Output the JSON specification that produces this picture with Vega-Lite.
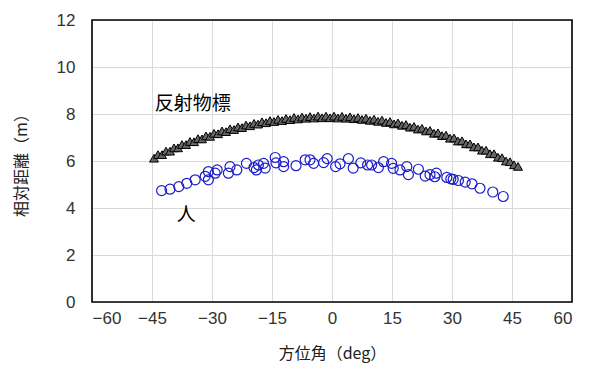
{
  "$schema": "https://vega.github.io/schema/vega-lite/v6.json",
  "width": 480,
  "height": 282,
  "autosize": {"type": "none"},
  "padding": {"left": 92, "top": 20, "right": 23, "bottom": 67},
  "background": "white",
  "config": {
    "view": {"stroke": null},
    "axis": {
      "grid": true,
      "gridColor": "#d9d9d9",
      "gridWidth": 1,
      "domain": false,
      "ticks": false,
      "labelFont": "Liberation Sans",
      "labelFontSize": 17,
      "labelColor": "#333333",
      "titleFont": "Noto Sans CJK JP",
      "titleFontSize": 16,
      "titleFontWeight": "normal",
      "titleColor": "#202020"
    }
  },
  "datasets": {
    "tri": [
      {"x": -44.5, "y": 6.12}, {"x": -43.5, "y": 6.27}, {"x": -42.5, "y": 6.27}, {"x": -41.5, "y": 6.42},
      {"x": -40.5, "y": 6.42}, {"x": -39.5, "y": 6.56}, {"x": -38.5, "y": 6.56}, {"x": -37.5, "y": 6.70},
      {"x": -36.5, "y": 6.70}, {"x": -35.5, "y": 6.83}, {"x": -34.5, "y": 6.82}, {"x": -33.5, "y": 6.95},
      {"x": -32.5, "y": 6.94}, {"x": -31.5, "y": 7.07}, {"x": -30.5, "y": 7.05}, {"x": -29.5, "y": 7.18},
      {"x": -28.5, "y": 7.16}, {"x": -27.5, "y": 7.28}, {"x": -26.5, "y": 7.25}, {"x": -25.5, "y": 7.37},
      {"x": -24.5, "y": 7.34}, {"x": -23.5, "y": 7.45}, {"x": -22.5, "y": 7.42}, {"x": -21.5, "y": 7.53},
      {"x": -20.5, "y": 7.50}, {"x": -19.5, "y": 7.60}, {"x": -18.5, "y": 7.57}, {"x": -17.5, "y": 7.67},
      {"x": -16.5, "y": 7.63}, {"x": -15.5, "y": 7.72}, {"x": -14.5, "y": 7.68}, {"x": -13.5, "y": 7.77},
      {"x": -12.5, "y": 7.72}, {"x": -11.5, "y": 7.81}, {"x": -10.5, "y": 7.76}, {"x": -9.5, "y": 7.85},
      {"x": -8.5, "y": 7.79}, {"x": -7.5, "y": 7.87}, {"x": -6.5, "y": 7.82}, {"x": -5.5, "y": 7.89},
      {"x": -4.5, "y": 7.83}, {"x": -3.5, "y": 7.91}, {"x": -2.5, "y": 7.84}, {"x": -1.5, "y": 7.91},
      {"x": -0.5, "y": 7.84}, {"x": 0.5, "y": 7.91}, {"x": 1.5, "y": 7.83}, {"x": 2.5, "y": 7.90},
      {"x": 3.5, "y": 7.82}, {"x": 4.5, "y": 7.88}, {"x": 5.5, "y": 7.80}, {"x": 6.5, "y": 7.85},
      {"x": 7.5, "y": 7.77}, {"x": 8.5, "y": 7.82}, {"x": 9.5, "y": 7.73}, {"x": 10.5, "y": 7.78},
      {"x": 11.5, "y": 7.69}, {"x": 12.5, "y": 7.74}, {"x": 13.5, "y": 7.64}, {"x": 14.5, "y": 7.68},
      {"x": 15.5, "y": 7.58}, {"x": 16.5, "y": 7.62}, {"x": 17.5, "y": 7.52}, {"x": 18.5, "y": 7.55},
      {"x": 19.5, "y": 7.44}, {"x": 20.5, "y": 7.47}, {"x": 21.5, "y": 7.36}, {"x": 22.5, "y": 7.39},
      {"x": 23.5, "y": 7.28}, {"x": 24.5, "y": 7.30}, {"x": 25.5, "y": 7.18}, {"x": 26.5, "y": 7.20},
      {"x": 27.5, "y": 7.08}, {"x": 28.5, "y": 7.10}, {"x": 29.5, "y": 6.97}, {"x": 30.5, "y": 6.98},
      {"x": 31.5, "y": 6.85}, {"x": 32.5, "y": 6.86}, {"x": 33.5, "y": 6.73}, {"x": 34.5, "y": 6.73},
      {"x": 35.5, "y": 6.60}, {"x": 36.5, "y": 6.60}, {"x": 37.5, "y": 6.46}, {"x": 38.5, "y": 6.46},
      {"x": 39.5, "y": 6.31}, {"x": 40.5, "y": 6.31}, {"x": 41.5, "y": 6.16}, {"x": 42.5, "y": 6.14},
      {"x": 43.5, "y": 6.00}, {"x": 44.5, "y": 5.97}, {"x": 45.5, "y": 5.84}, {"x": 46.5, "y": 5.77}
    ],
    "circ": [
      {"x": -42.6, "y": 4.74}, {"x": -40.5, "y": 4.80}, {"x": -38.3, "y": 4.91}, {"x": -36.3, "y": 5.05},
      {"x": -34.2, "y": 5.20}, {"x": -31.7, "y": 5.35}, {"x": -30.9, "y": 5.55}, {"x": -30.9, "y": 5.20},
      {"x": -29.2, "y": 5.48}, {"x": -28.7, "y": 5.62}, {"x": -25.9, "y": 5.48}, {"x": -25.5, "y": 5.76},
      {"x": -23.8, "y": 5.62}, {"x": -21.4, "y": 5.90}, {"x": -19.5, "y": 5.72}, {"x": -18.9, "y": 5.62},
      {"x": -18.4, "y": 5.83}, {"x": -17.1, "y": 5.90}, {"x": -16.7, "y": 5.70}, {"x": -14.2, "y": 6.15},
      {"x": -14.0, "y": 5.92}, {"x": -12.1, "y": 5.97}, {"x": -12.1, "y": 5.76}, {"x": -9.0, "y": 5.80},
      {"x": -6.7, "y": 6.05}, {"x": -5.5, "y": 6.05}, {"x": -4.6, "y": 5.90}, {"x": -2.1, "y": 5.93},
      {"x": -1.2, "y": 6.10}, {"x": 0.9, "y": 5.76}, {"x": 2.0, "y": 5.88}, {"x": 4.1, "y": 6.10},
      {"x": 5.3, "y": 5.70}, {"x": 7.2, "y": 5.92}, {"x": 8.9, "y": 5.83}, {"x": 9.9, "y": 5.83},
      {"x": 11.6, "y": 5.72}, {"x": 12.9, "y": 5.97}, {"x": 14.9, "y": 5.90}, {"x": 15.3, "y": 5.69},
      {"x": 17.0, "y": 5.62}, {"x": 18.7, "y": 5.76}, {"x": 19.1, "y": 5.42}, {"x": 21.6, "y": 5.65},
      {"x": 23.3, "y": 5.36}, {"x": 24.5, "y": 5.42}, {"x": 25.7, "y": 5.33}, {"x": 26.1, "y": 5.48},
      {"x": 28.7, "y": 5.30}, {"x": 29.7, "y": 5.24}, {"x": 30.3, "y": 5.22}, {"x": 31.6, "y": 5.17},
      {"x": 33.3, "y": 5.10}, {"x": 35.0, "y": 5.03}, {"x": 37.0, "y": 4.84}, {"x": 40.2, "y": 4.68},
      {"x": 42.8, "y": 4.49}
    ],
    "labels": [
      {"x": -44.3, "y": 8.42, "text": "反射物標"},
      {"x": -38.8, "y": 3.72, "text": "人"}
    ],
    "frame": [
      {"x1": -60, "x2": 60, "y1": 0, "y2": 12}
    ]
  },
  "layer": [
    {
      "data": {"name": "circ"},
      "mark": {"type": "point", "shape": "circle", "filled": false, "size": 100, "stroke": "#1c1cc8", "strokeWidth": 1.2, "opacity": 1},
      "encoding": {
        "x": {
          "field": "x", "type": "quantitative",
          "scale": {"domain": [-60, 60], "nice": false, "zero": false},
          "axis": {
            "values": [-60, -45, -30, -15, 0, 15, 30, 45, 60],
            "title": "方位角（deg）", "labelPadding": 8, "titleY": 51, "titleBaseline": "middle"
          }
        },
        "y": {
          "field": "y", "type": "quantitative",
          "scale": {"domain": [0, 12], "nice": false},
          "axis": {
            "values": [0, 2, 4, 6, 8, 10, 12],
            "title": "相対距離（m）", "labelPadding": 17, "titleX": -71, "titleY": 141, "titleAngle": 270, "titleAlign": "center", "titleBaseline": "middle"
          }
        }
      }
    },
    {
      "data": {"name": "tri"},
      "mark": {"type": "point", "shape": "triangle-up", "filled": true, "size": 80, "fill": "#666666", "stroke": "#000000", "strokeWidth": 1, "opacity": 1},
      "encoding": {
        "x": {"field": "x", "type": "quantitative"},
        "y": {"field": "y", "type": "quantitative"}
      }
    },
    {
      "data": {"name": "labels"},
      "mark": {"type": "text", "align": "left", "baseline": "middle", "font": "Noto Sans CJK JP", "fontSize": 19, "color": "#000000"},
      "encoding": {
        "x": {"field": "x", "type": "quantitative"},
        "y": {"field": "y", "type": "quantitative"},
        "text": {"field": "text", "type": "nominal"}
      }
    },
    {
      "data": {"name": "frame"},
      "mark": {"type": "rect", "fill": null, "fillOpacity": 0, "stroke": "#000000", "strokeWidth": 1.6},
      "encoding": {
        "x": {"field": "x1", "type": "quantitative"},
        "x2": {"field": "x2"},
        "y": {"field": "y1", "type": "quantitative"},
        "y2": {"field": "y2"}
      }
    }
  ]
}
